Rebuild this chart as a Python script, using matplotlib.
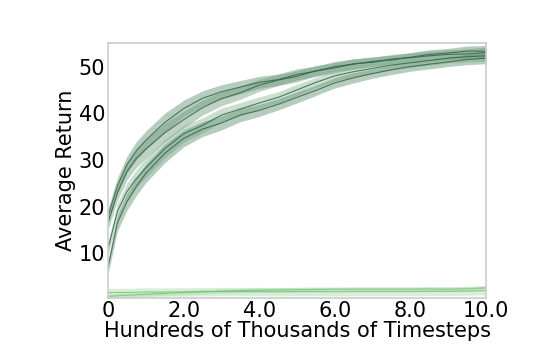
import matplotlib
matplotlib.use("Agg")
import matplotlib.pyplot as plt
import numpy as np

x = [0, 0.25, 0.5, 0.75, 1, 1.5, 2, 2.5, 3, 3.5, 4, 4.5, 5, 5.5, 6, 6.5, 7, 7.5, 8, 8.5, 9, 9.5, 10]

upper_a = [18, 24.5, 29, 32, 34.2, 38, 41, 43.2, 44.6, 45.6, 46.6, 47.2, 48.3, 49.0, 50.0, 50.5, 51.1, 51.4, 52.0, 52.6, 52.9, 53.3, 53.3]
upper_b = [16.5, 23, 27.5, 30.3, 32.3, 35.8, 38.6, 41.2, 43.1, 44.4, 46.0, 47.1, 47.9, 49.1, 49.7, 50.6, 50.9, 51.6, 51.9, 52.3, 52.6, 52.7, 53.0]
lower_c = [11, 19, 23.2, 26, 28.3, 32.4, 35.6, 37.4, 39.6, 40.9, 42.2, 43.4, 45.0, 46.6, 48.0, 48.9, 49.6, 50.3, 50.8, 51.3, 51.8, 52.1, 52.3]
lower_d = [7, 16.5, 21, 24.3, 27.1, 31.4, 34.6, 36.6, 37.9, 39.6, 40.6, 41.9, 43.4, 44.9, 46.5, 47.6, 48.5, 49.3, 50.0, 50.5, 51.0, 51.5, 51.8]
low_e = [0.8, 0.9, 1.0, 1.1, 1.2, 1.4, 1.6, 1.75, 1.9, 2.0, 2.1, 2.15, 2.2, 2.25, 2.3, 2.3, 2.3, 2.3, 2.3, 2.35, 2.3, 2.4, 2.6]
low_f = [1.6, 1.6, 1.6, 1.65, 1.7, 1.7, 1.7, 1.75, 1.8, 1.8, 1.8, 1.75, 1.8, 1.8, 1.75, 1.8, 1.8, 1.8, 1.8, 1.85, 1.85, 1.9, 2.0]

spread_upper = [1.5, 1.7, 1.8, 1.9, 2.0, 2.0, 1.8, 1.6, 1.5, 1.4, 1.3, 1.2, 1.2, 1.1, 1.1, 1.1, 1.0, 1.0, 1.0, 1.0, 1.0, 1.1, 1.2]

xticks = [0, 2, 4, 6, 8, 10]
xticklabels = ["0", "2.0", "4.0", "6.0", "8.0", "10.0"]
yticks = [10, 20, 30, 40, 50]

fig = plt.figure(figsize=(5.4, 3.6), dpi=100)
ax = fig.add_axes([0.2, 0.172, 0.7, 0.708])

xs = np.array(x)
dark_fill = "#5e8f70"
dark_line = "#2f5f40"
for y, fc, a in [(upper_a, dark_fill, 0.45), (upper_b, "#6f9c80", 0.45),
                 (lower_c, "#8ab79a", 0.45), (lower_d, dark_fill, 0.45)]:
    y = np.array(y)
    s = np.array(spread_upper)
    ax.fill_between(xs, y - s, y + s, color=fc, alpha=a, linewidth=0)
    ax.plot(xs, y, color=dark_line, linewidth=0.8, alpha=0.8)

for y, s in [(low_e, 0.5), (low_f, 0.9)]:
    y = np.array(y)
    ax.fill_between(xs, y - s, y + s, color="#a8dca8", alpha=0.45, linewidth=0)
    ax.plot(xs, y, color="#78c078", linewidth=0.8, alpha=0.8)

ax.set_xlim(0, 10)
ax.set_ylim(0.4, 55)
ax.set_xticks(xticks)
ax.set_xticklabels(xticklabels)
ax.set_yticks(yticks)
ax.tick_params(length=0, labelsize=15, pad=2)
for sp in ax.spines.values():
    sp.set_color("#cccccc")
    sp.set_linewidth(1.2)
ax.set_xlabel("Hundreds of Thousands of Timesteps", fontsize=15, labelpad=0)
ax.set_ylabel("Average Return", fontsize=15, labelpad=2)

fig.savefig("out.png", dpi=100)
